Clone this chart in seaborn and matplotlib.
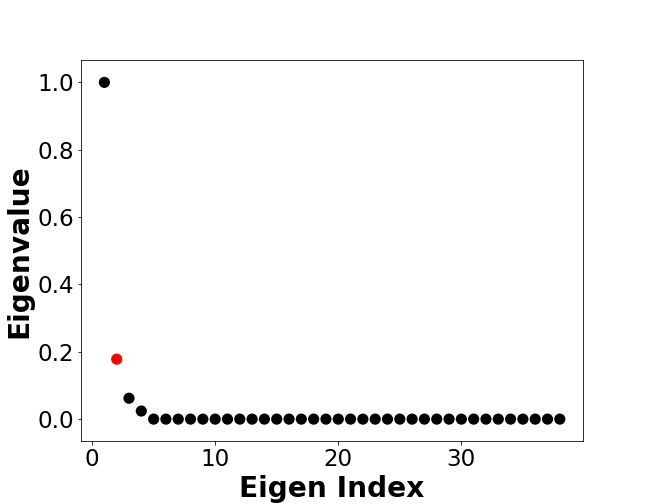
import pandas as pd
import matplotlib
matplotlib.use('Agg')
import matplotlib.pyplot as plt
import seaborn as sns

# 特征值数据
eigen_index = [1, 2, 3, 4, 5, 6, 7, 8, 9, 10,
               11, 12, 13, 14, 15, 16, 17, 18, 19, 20,
               21, 22, 23, 24, 25, 26, 27, 28, 29, 30,
               31, 32, 33, 34, 35, 36, 37, 38]
eigenvalues = [1.0, 0.178, 0.062, 0.024, 0.0, 0.0, 0.0, 0.0, 0.0, 0.0,
               0.0, 0.0, 0.0, 0.0, 0.0, 0.0, 0.0, 0.0, 0.0, 0.0,
               0.0, 0.0, 0.0, 0.0, 0.0, 0.0, 0.0, 0.0, 0.0, 0.0,
               0.0, 0.0, 0.0, 0.0, 0.0, 0.0, 0.0, 0.0]
highlight_index = 2

df = pd.DataFrame({'Eigen Index': eigen_index, 'Eigenvalue': eigenvalues})
df['group'] = ['hl' if i == highlight_index else 'normal' for i in df['Eigen Index']]

fig, ax = plt.subplots(figsize=(9, 7), dpi=72)
plt.subplots_adjust(left=0.125, right=0.9, top=0.88, bottom=0.125)

sns.scatterplot(data=df, x='Eigen Index', y='Eigenvalue', hue='group',
                palette={'normal': 'black', 'hl': 'red'}, s=125, linewidth=0,
                legend=False, ax=ax)

ax.set_xlim(-0.9, 39.9)
ax.set_ylim(-0.065, 1.065)
ax.set_xticks([0, 10, 20, 30])
ax.set_yticks([0.0, 0.2, 0.4, 0.6, 0.8, 1.0])
ax.tick_params(labelsize=23)
ax.set_xlabel('Eigen Index', fontsize=28, fontweight='bold')
ax.set_ylabel('Eigenvalue', fontsize=28, fontweight='bold')

plt.savefig('out.png', dpi=72)
